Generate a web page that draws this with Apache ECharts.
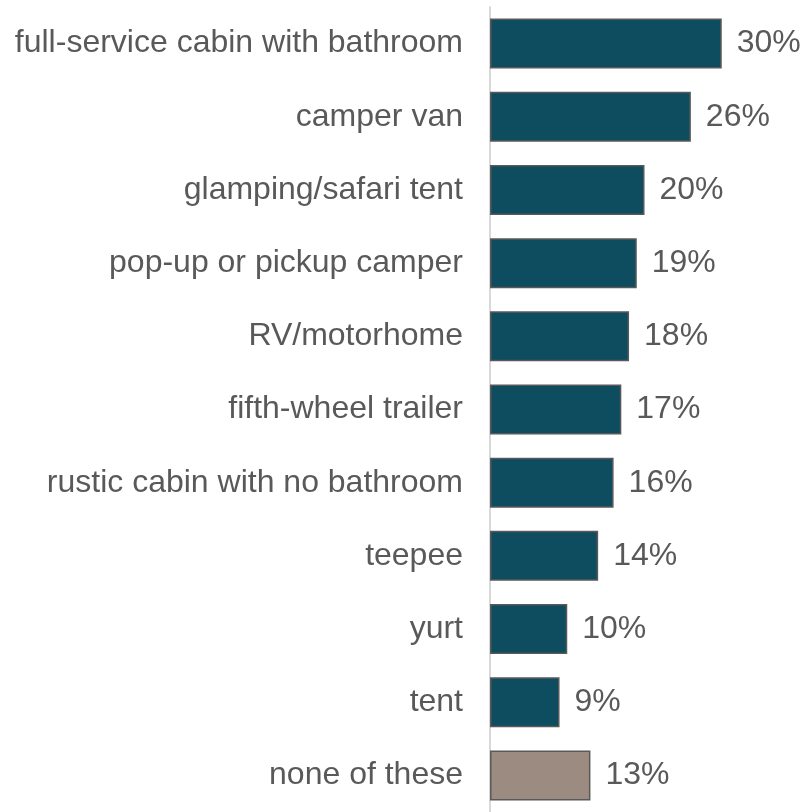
<!DOCTYPE html>
<html>
<head>
<meta charset="utf-8">
<script src="https://cdn.jsdelivr.net/npm/echarts@6/dist/echarts.min.js"></script>
<style>
  html, body { margin: 0; padding: 0; background: #ffffff; }
  #chart { width: 802px; height: 812px; }
</style>
</head>
<body>
<div id="chart"></div>
<script>
// Accommodation types, listed top to bottom
const categories = [
  'full-service cabin with bathroom',
  'camper van',
  'glamping/safari tent',
  'pop-up or pickup camper',
  'RV/motorhome',
  'fifth-wheel trailer',
  'rustic cabin with no bathroom',
  'teepee',
  'yurt',
  'tent',
  'none of these'
];
// Share of respondents (%)
const values = [30, 26, 20, 19, 18, 17, 16, 14, 10, 9, 13];

const mainColor = '#0d4d5f';
const noneColor = '#9b8b81';

const chart = echarts.init(document.getElementById('chart'), null, { renderer: 'canvas' });
chart.setOption({
  animation: false,
  backgroundColor: '#ffffff',
  grid: { left: 490, top: 7, width: 309, height: 810, containLabel: false },
  xAxis: {
    type: 'value',
    min: 0,
    max: 40,
    show: false
  },
  yAxis: {
    type: 'category',
    inverse: true,
    data: categories,
    axisLine: { show: true, lineStyle: { color: '#d9d9d9', width: 2 } },
    axisTick: { show: false },
    axisLabel: {
      margin: 27,
      fontFamily: 'Liberation Sans, Arial, sans-serif',
      fontSize: 32,
      color: '#595959'
    }
  },
  series: [{
    type: 'bar',
    barWidth: 50,
    data: values.map((v, i) => ({
      value: v,
      itemStyle: { color: i === values.length - 1 ? noneColor : mainColor }
    })),
    itemStyle: { borderColor: '#595959', borderWidth: 1.5 },
    label: {
      show: true,
      position: 'right',
      distance: 15,
      formatter: '{c}%',
      fontFamily: 'Liberation Sans, Arial, sans-serif',
      fontSize: 32,
      color: '#595959'
    }
  }]
});
</script>
</body>
</html>
